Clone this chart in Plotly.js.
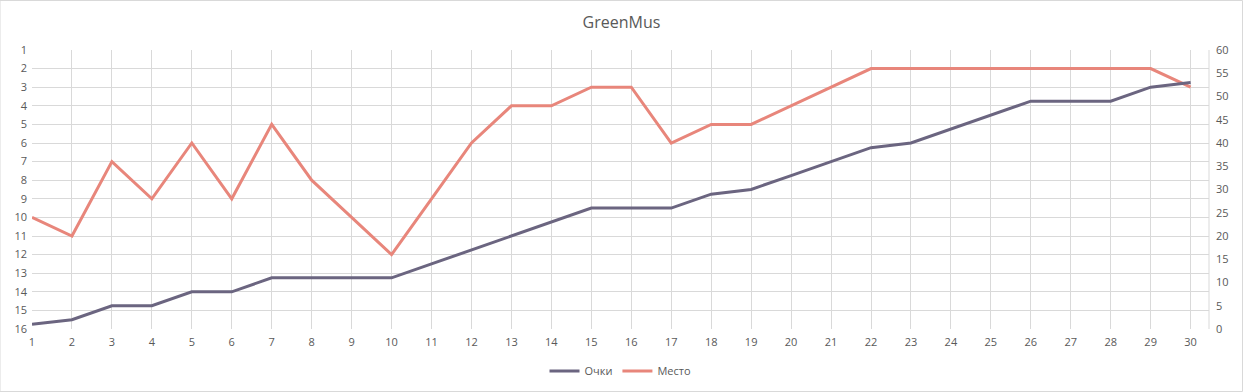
<!DOCTYPE html>
<html>
<head>
<meta charset="utf-8">
<script src="https://cdn.plot.ly/plotly-3.0.1.min.js"></script>
<style>
html,body{margin:0;padding:0;background:#fff;}
#chart{width:1243px;height:392px;}
</style>
</head>
<body>
<div id="chart"></div>
<script>
var rounds = [1,2,3,4,5,6,7,8,9,10,11,12,13,14,15,16,17,18,19,20,21,22,23,24,25,26,27,28,29,30];
var points = [1,2,5,5,8,8,11,11,11,11,14,17,20,23,26,26,26,29,30,33,36,39,40,43,46,49,49,49,52,53];
var places = [10,11,7,9,6,9,5,8,10,12,9,6,4,4,3,3,6,5,5,4,3,2,2,2,2,2,2,2,2,3];
var placeTicks = [1,2,3,4,5,6,7,8,9,10,11,12,13,14,15,16];

var fontFam = '"Open Sans", "Liberation Sans", sans-serif';
var tickColor = '#595959';

var traces = [
  {x: rounds, y: points, name: 'Очки', type: 'scatter', mode: 'lines', yaxis: 'y2',
   line: {color: '#6b6580', width: 3}},
  {x: rounds, y: places, name: 'Место', type: 'scatter', mode: 'lines', yaxis: 'y',
   line: {color: '#e8867b', width: 3}}
];

var layout = {
  width: 1243, height: 392,
  margin: {l: 32, r: 34, t: 50, b: 63, autoexpand: false},
  paper_bgcolor: '#fff', plot_bgcolor: '#fff',
  font: {family: fontFam, size: 11, color: tickColor},
  title: {text: 'GreenMus', x: 0.5, xanchor: 'center', y: 1 - 22/392, yanchor: 'middle',
          font: {family: fontFam, size: 16, color: '#595959'}},
  showlegend: true,
  legend: {orientation: 'h', x: 0.5, xanchor: 'center', y: -42/279, yanchor: 'middle',
           font: {family: fontFam, size: 11, color: tickColor}, traceorder: 'normal'},
  xaxis: {range: [1, 30.46], tickmode: 'array', tickvals: rounds, ticktext: rounds.map(String),
          showgrid: true, gridcolor: '#d9d9d9', gridwidth: 1, zeroline: false, automargin: false,
          showline: false, ticks: '', tickfont: {size: 11, color: tickColor}, ticklabelstandoff: 5, fixedrange: true},
  yaxis: {range: [16, 1], tickmode: 'array', tickvals: placeTicks, ticktext: placeTicks.map(String),
          showgrid: true, gridcolor: '#d9d9d9', gridwidth: 1, zeroline: false, automargin: false,
          showline: false, ticks: '', tickfont: {size: 11, color: tickColor}, ticklabelstandoff: 4},
  yaxis2: {range: [0, 60], dtick: 5, tick0: 0, overlaying: 'y', side: 'right', automargin: false,
           showgrid: false, zeroline: false, showline: false, ticks: '',
           tickfont: {size: 11, color: tickColor}, ticklabelstandoff: 6},
  shapes: [
    {type: 'line', xref: 'paper', yref: 'paper', x0: 1, x1: 1, y0: 0, y1: 1,
     line: {color: '#d9d9d9', width: 1}, layer: 'below'},
    {type: 'rect', xref: 'paper', yref: 'paper', x0: -32/1177, x1: 1 + 33.5/1177, y0: -62.5/279, y1: 1 + 49.5/279,
     line: {color: '#d9d9d9', width: 1}, layer: 'below'}
  ]
};

Plotly.newPlot('chart', traces, layout, {displayModeBar: false, staticPlot: true});
</script>
</body>
</html>
